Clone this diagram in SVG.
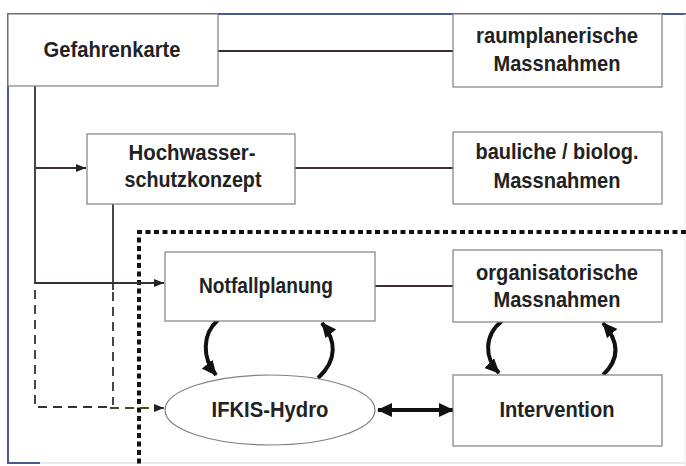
<svg xmlns="http://www.w3.org/2000/svg" width="686" height="466" viewBox="0 0 686 466">
<defs>
<style>
.box{fill:#fff;stroke:#808080;stroke-width:1.2}
.t{font-family:"Liberation Sans",Arial,sans-serif;font-weight:bold;font-size:22px;fill:#222;text-anchor:middle}
.ln{fill:none;stroke:#3a3030;stroke-width:1.8}
.dash{fill:none;stroke:#333;stroke-width:1.8;stroke-dasharray:9 6}
.cur{fill:none;stroke:#111;stroke-width:4}
</style>
<marker id="sm" viewBox="0 0 10 8" refX="10" refY="4" markerWidth="10" markerHeight="8" markerUnits="userSpaceOnUse" orient="auto"><path d="M0,0 L10,4 L0,8 z" fill="#222"/></marker>
<marker id="big" viewBox="0 0 15 14" refX="14" refY="7" markerWidth="15" markerHeight="14" markerUnits="userSpaceOnUse" orient="auto-start-reverse"><path d="M0,0 L15,7 L0,14 z" fill="#111"/></marker>
</defs>
<rect width="686" height="466" fill="#fff"/>
<g id="frame">
<path d="M686,14 H8 V463 H40" fill="none" stroke="#4a5a90" stroke-width="2"/>
<path d="M40,463 H686" fill="none" stroke="#e4e4e4" stroke-width="1.5"/>
<path d="M685,14 V466" fill="none" stroke="#eeeeee" stroke-width="1"/>
<path d="M686,232 H139 V466" fill="none" stroke="#111" stroke-width="4" stroke-dasharray="5 3.5"/>
</g>
<g id="connectors">
<path class="ln" d="M218,51 H453"/>
<path class="ln" d="M295,168 H453"/>
<path class="ln" d="M375,286 H453"/>
<path class="ln" d="M35,86 V283 H164" marker-end="url(#sm)"/>
<path class="ln" d="M35,168 H86" marker-end="url(#sm)"/>
<path class="ln" d="M113,204 V290"/>
<path class="dash" d="M113,292 V405"/>
<path class="dash" d="M35,290 V407 H110"/>
<path d="M110,408 H164" fill="none" stroke="#3d4a2a" stroke-width="1.8" stroke-dasharray="9 6" marker-end="url(#sm)"/>
<path class="cur" d="M218,320 C202,334 202,358 216,375" marker-end="url(#big)"/>
<path class="cur" d="M318,378 C338,360 336,340 322,323" marker-end="url(#big)"/>
<path class="cur" d="M502,321 C484,335 484,358 499,373" marker-end="url(#big)"/>
<path class="cur" d="M603,375 C621,358 618,340 603,323" marker-end="url(#big)"/>
<path class="cur" d="M378,410 H453" marker-start="url(#big)" marker-end="url(#big)"/>
</g>
<g id="gefahrenkarte">
<rect class="box" x="8" y="14" width="210" height="72"/>
<text class="t" x="112" y="57" textLength="137" lengthAdjust="spacingAndGlyphs">Gefahrenkarte</text>
</g>
<g id="raumplanerische">
<rect class="box" x="453" y="14" width="209" height="73"/>
<text class="t" x="557" y="43" textLength="162" lengthAdjust="spacingAndGlyphs">raumplanerische</text>
<text class="t" x="557" y="71" textLength="127" lengthAdjust="spacingAndGlyphs">Massnahmen</text>
</g>
<g id="hochwasser">
<rect class="box" x="87" y="134" width="208" height="70"/>
<text class="t" x="192" y="160" textLength="127" lengthAdjust="spacingAndGlyphs">Hochwasser-</text>
<text class="t" x="193" y="187" textLength="137" lengthAdjust="spacingAndGlyphs">schutzkonzept</text>
</g>
<g id="bauliche">
<rect class="box" x="453" y="132" width="209" height="72"/>
<text class="t" x="557" y="159" textLength="163" lengthAdjust="spacingAndGlyphs">bauliche / biolog.</text>
<text class="t" x="557" y="188" textLength="127" lengthAdjust="spacingAndGlyphs">Massnahmen</text>
</g>
<g id="notfallplanung">
<rect class="box" x="165" y="252" width="210" height="69"/>
<text class="t" x="266" y="293" textLength="134" lengthAdjust="spacingAndGlyphs">Notfallplanung</text>
</g>
<g id="organisatorische">
<rect class="box" x="453" y="250" width="209" height="72"/>
<text class="t" x="557" y="280" textLength="162" lengthAdjust="spacingAndGlyphs">organisatorische</text>
<text class="t" x="557" y="307" textLength="127" lengthAdjust="spacingAndGlyphs">Massnahmen</text>
</g>
<g id="ifkis">
<ellipse cx="270" cy="410" rx="105" ry="35" fill="#fff" stroke="#808080" stroke-width="1.2"/>
<text class="t" x="270" y="417" textLength="117" lengthAdjust="spacingAndGlyphs">IFKIS-Hydro</text>
</g>
<g id="intervention">
<rect class="box" x="453" y="375" width="209" height="71"/>
<text class="t" x="557" y="417" textLength="115" lengthAdjust="spacingAndGlyphs">Intervention</text>
</g>
</svg>
